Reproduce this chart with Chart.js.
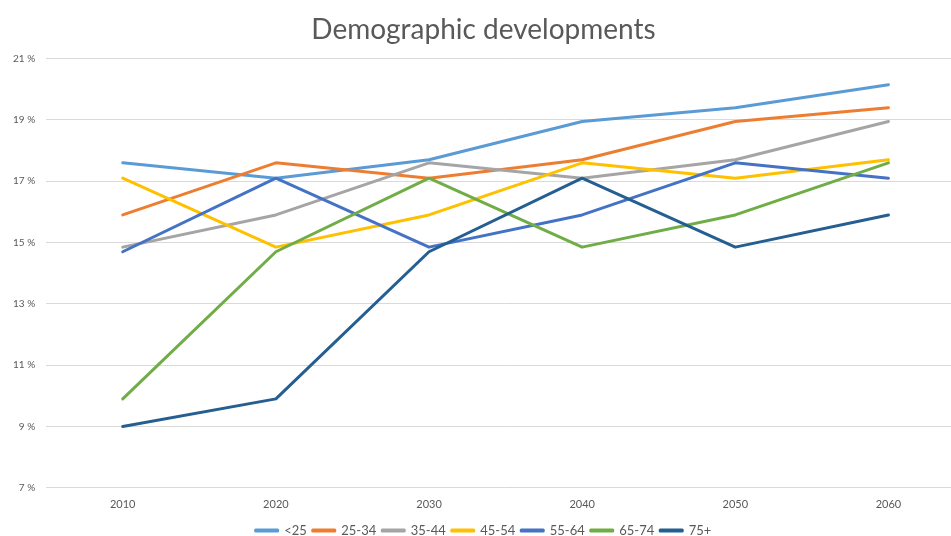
<!DOCTYPE html>
<html>
<head>
<meta charset="utf-8">
<script src="https://cdn.jsdelivr.net/npm/chart.js@4"></script>
<style>
  body { margin: 0; overflow: hidden; background: #fff; }
  .chart-container { position: relative; width: 980px; height: 536px; }
</style>
</head>
<body>
<div class="chart-container">
  <canvas id="demoChart"></canvas>
</div>
<script>
// categories
const years = ["2010", "2020", "2030", "2040", "2050", "2060"];

// series values (share of population, %)
const under25 = [17.6, 17.1, 17.7, 18.95, 19.4, 20.15];
const age25to34 = [15.9, 17.6, 17.1, 17.7, 18.95, 19.4];
const age35to44 = [14.85, 15.9, 17.6, 17.1, 17.7, 18.95];
const age45to54 = [17.1, 14.85, 15.9, 17.6, 17.1, 17.7];
const age55to64 = [14.7, 17.1, 14.85, 15.9, 17.6, 17.1];
const age65to74 = [9.9, 14.7, 17.1, 14.85, 15.9, 17.6];
const age75plus = [9.0, 9.9, 14.7, 17.1, 14.85, 15.9];

const seriesNames = ["<25", "25-34", "35-44", "45-54", "55-64", "65-74", "75+"];
const seriesData = [under25, age25to34, age35to44, age45to54, age55to64, age65to74, age75plus];
const seriesColors = ["#5B9BD5", "#ED7D31", "#A5A5A5", "#FFC000", "#4472C4", "#70AD47", "#255E91"];

// y axis ticks
const yMin = 7;
const yMax = 21;
const yStep = 2;

const textColor = "#595959";
const fontFamily = "Lato, 'Open Sans', sans-serif";

let datasets = seriesNames.map(function (name, i) {
    return {
        label: name,
        data: seriesData[i],
        borderColor: seriesColors[i],
        backgroundColor: seriesColors[i],
        borderWidth: 3,
        pointRadius: 0,
        tension: 0,
        borderJoinStyle: 'round',
        borderCapStyle: 'round',
        order: seriesNames.length - i // later series on top, like Excel
    };
});

let ctx = document.getElementById("demoChart").getContext("2d");

new Chart(ctx, {
    type: 'line',
    data: { labels: years, datasets: datasets },
    options: {
        responsive: true,
        maintainAspectRatio: false,
        animation: false,
        layout: { padding: { left: 2, right: 15, top: 9, bottom: -11 } },
        plugins: {
            title: {
                display: true,
                text: 'Demographic developments',
                color: textColor,
                font: { family: fontFamily, size: 28, weight: 'normal' },
                padding: { top: 4, bottom: 12 }
            },
            legend: {
                position: 'bottom',
                labels: {
                    color: textColor,
                    font: { family: fontFamily, size: 13 },
                    boxWidth: 22,
                    boxHeight: 1,
                    padding: 6,
                    sort: function (a, b) { return a.datasetIndex - b.datasetIndex; }
                }
            },
            tooltip: { enabled: false }
        },
        scales: {
            x: {
                offset: true,
                grid: { display: false },
                border: { display: false },
                afterFit: function (scale) { scale.height += 5; }, // extra room under the year labels
                ticks: {
                    color: textColor,
                    font: { family: fontFamily, size: 11 },
                    padding: 2
                }
            },
            y: {
                min: yMin,
                max: yMax,
                grid: { color: '#D9D9D9', drawTicks: false, lineWidth: 1 },
                border: { display: false },
                ticks: {
                    stepSize: yStep,
                    color: textColor,
                    font: { family: fontFamily, size: 10 },
                    padding: 11,
                    callback: function (v) { return v + ' %'; }
                }
            }
        }
    }
});
</script>
</body>
</html>
